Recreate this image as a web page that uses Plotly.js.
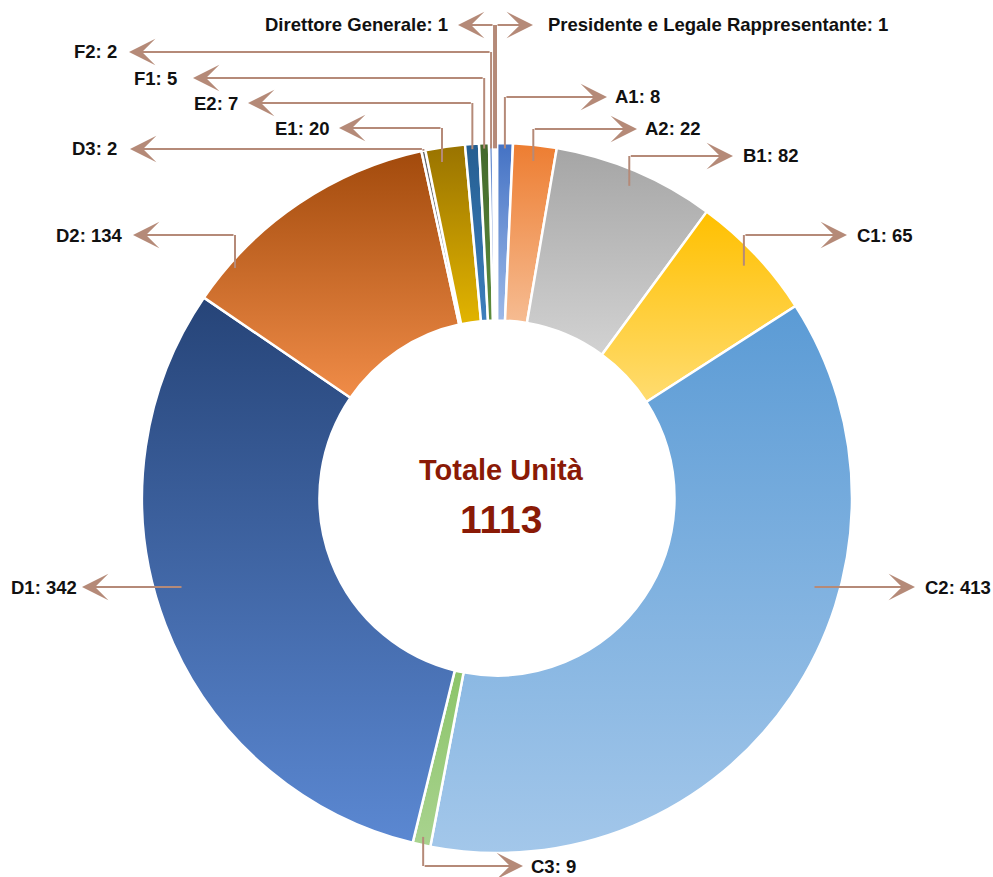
<!DOCTYPE html>
<html>
<head>
<meta charset="utf-8">
<script src="https://cdn.plot.ly/plotly-3.0.1.min.js"></script>
<style>
html,body{margin:0;padding:0;background:#fff;}
#chart{width:993px;height:877px;}
</style>
</head>
<body>
<div id="chart"></div>
<script>
// ---------- DATA ----------
const categories = ['A1','A2','B1','C1','C2','C3','D1','D2','D3','E1','E2','F1','F2','Direttore Generale','Presidente e Legale Rappresentante'];
const values = [8,22,82,65,413,9,342,134,2,20,7,5,2,1,1];
const centerTitle = 'Totale Unità';

// ---------- STYLE ----------
const colorsTop    = ['#4472C4','#ED7D31','#A5A5A5','#FFC000','#5B9BD5','#8CC46A','#264478','#A24A0C','#636363','#997300','#255E91','#43682B','#698ED0','#F1975A','#B7B7B7'];
const colorsBottom = ['#9DB9E8','#F6BC92','#D2D2D2','#FFDC70','#A3C7EA','#A9D38F','#5B88D2','#F08C48','#8A8A8A','#E2B400','#3D7FBD','#5C8C3C','#8FAAE0','#F6B68A','#CFCFCF'];
const colorsMid = colorsTop.map((c,i)=>mix(c, colorsBottom[i], 0.5));
function mix(a,b,t){
  const pa=[1,3,5].map(k=>parseInt(a.substr(k,2),16)), pb=[1,3,5].map(k=>parseInt(b.substr(k,2),16));
  return 'rgb('+pa.map((v,k)=>Math.round(v+(pb[k]-v)*t)).join(',')+')';
}

const W = 993, H = 877;
const pieCX = 497, pieCY = 498, pieR = 355, holeFrac = 0.5;
const leaderColor = '#B58A78';
const fontFam = "'Liberation Sans', Arial, sans-serif";
const labelFont = {family:fontFam, size:18.5, color:'#111', weight:'bold'};

// leader layout per category (pixel positions of label rows)
const labelLayout = [
  {side:'r', y:97,  tipX:607, textX:614, rf:0.985},            // A1
  {side:'r', y:129, tipX:637, textX:644, rf:0.955},            // A2
  {side:'r', y:156, tipX:733, textX:742, rf:0.955},            // B1
  {side:'r', y:235, tipX:847, textX:856, rf:0.955},            // C1
  {side:'r', y:587, tipX:915, textX:924, hx:813},              // C2
  {side:'r', y:866, tipX:523, textX:530, rf:0.977},            // C3
  {side:'l', y:587, tipX:82,  textX:78,  hx:183},              // D1
  {side:'l', y:235, tipX:133, textX:124, ax:235, ay:268},      // D2
  {side:'l', y:149, tipX:130, textX:118, rf:1.0},              // D3
  {side:'l', y:128, tipX:339, textX:331, ax:442, ay:162},      // E1
  {side:'l', y:103, tipX:248, textX:239, rf:0.985},            // E2
  {side:'l', y:78,  tipX:193, textX:178, rf:0.985},            // F1
  {side:'l', y:52,  tipX:129, textX:118, rf:0.985},            // F2
  {side:'l', y:25,  tipX:458, textX:449, rf:0.985},            // Direttore
  {side:'r', y:25,  tipX:533, textX:547, rf:0.985}             // Presidente
];

const X = px => px / W;
const Y = py => 1 - py / H;

const total = values.reduce((a,b)=>a+b,0);

// slice mid angles (clockwise from 12 o'clock), from data
let cum = 0;
const midAngles = values.map(v => { const m = (cum + v/2) / total * 2 * Math.PI; cum += v; return m; });

const shapes = [];
const annotations = [];

labelLayout.forEach((L, i) => {
  let ax, ay;
  if (L.hx !== undefined) { ax = L.hx; ay = L.y; }
  else if (L.ax !== undefined) { ax = L.ax; ay = L.ay; }
  else {
    const r = pieR * L.rf;
    ax = pieCX + r * Math.sin(midAngles[i]);
    ay = pieCY - r * Math.cos(midAngles[i]);
  }
  if (Math.abs(ay - L.y) > 0.5) {
    shapes.push({type:'line', xref:'paper', yref:'paper', x0:X(ax), y0:Y(ay), x1:X(ax), y1:Y(L.y),
      line:{color:leaderColor, width:2}});
  }
  annotations.push({xref:'paper', yref:'paper', x:X(L.tipX), y:Y(L.y), text:'', showarrow:true,
    axref:'pixel', ayref:'pixel', ax: ax - L.tipX, ay: 0,
    arrowhead:3, arrowsize:2.2, arrowwidth:2, arrowcolor:leaderColor, standoff:0, startstandoff:0});
  annotations.push({xref:'paper', yref:'paper', x:X(L.textX), y:Y(L.y), text: categories[i] + ': ' + values[i],
    showarrow:false, xanchor: L.side==='r' ? 'left' : 'right', yanchor:'middle', borderpad:0, font: labelFont});
});

// center text
const centerFont = {family:fontFam, color:'#8A1A06', weight:'bold'};
annotations.push({xref:'paper', yref:'paper', x:X(501), y:Y(470), text:centerTitle, showarrow:false,
  xanchor:'center', yanchor:'middle', font:Object.assign({size:29}, centerFont)});
annotations.push({xref:'paper', yref:'paper', x:X(501), y:Y(519), text:String(total), showarrow:false,
  xanchor:'center', yanchor:'middle', font:Object.assign({size:39}, centerFont)});

const trace = {
  type:'pie', labels:categories, values:values, sort:false, direction:'clockwise', rotation:0,
  hole:holeFrac, textinfo:'none', hoverinfo:'label+value', showlegend:false,
  marker:{colors:colorsMid, line:{color:'#ffffff', width:2.5}},
  domain:{x:[X(pieCX - pieR), X(pieCX + pieR)], y:[Y(pieCY + pieR), Y(pieCY - pieR)]}
};

const layout = {
  width:W, height:H, margin:{l:0,r:0,t:0,b:0}, paper_bgcolor:'#fff', plot_bgcolor:'#fff',
  showlegend:false, shapes:shapes, annotations:annotations
};

Plotly.newPlot('chart', [trace], layout, {displayModeBar:false, staticPlot:true}).then(gd => {
  const ns = 'http://www.w3.org/2000/svg';
  const svg = gd.querySelector('svg.main-svg');
  const defs = document.createElementNS(ns, 'defs');
  svg.insertBefore(defs, svg.firstChild);
  gd.querySelectorAll('.pielayer .slice').forEach((g, k) => {
    const d = g.__data__;
    const i = (d && typeof d.i === 'number') ? d.i : k;
    const lg = document.createElementNS(ns, 'linearGradient');
    lg.setAttribute('id', 'sliceGrad' + i);
    lg.setAttribute('x1','0'); lg.setAttribute('y1','0'); lg.setAttribute('x2','0'); lg.setAttribute('y2','1');
    [[0, colorsTop[i]], [1, colorsBottom[i]]].forEach(([o,c]) => {
      const s = document.createElementNS(ns, 'stop');
      s.setAttribute('offset', String(o)); s.setAttribute('stop-color', c);
      lg.appendChild(s);
    });
    defs.appendChild(lg);
    const p = g.querySelector('path.surface');
    if (p) p.style.fill = 'url(#sliceGrad' + i + ')';
  });
});
</script>
</body>
</html>
